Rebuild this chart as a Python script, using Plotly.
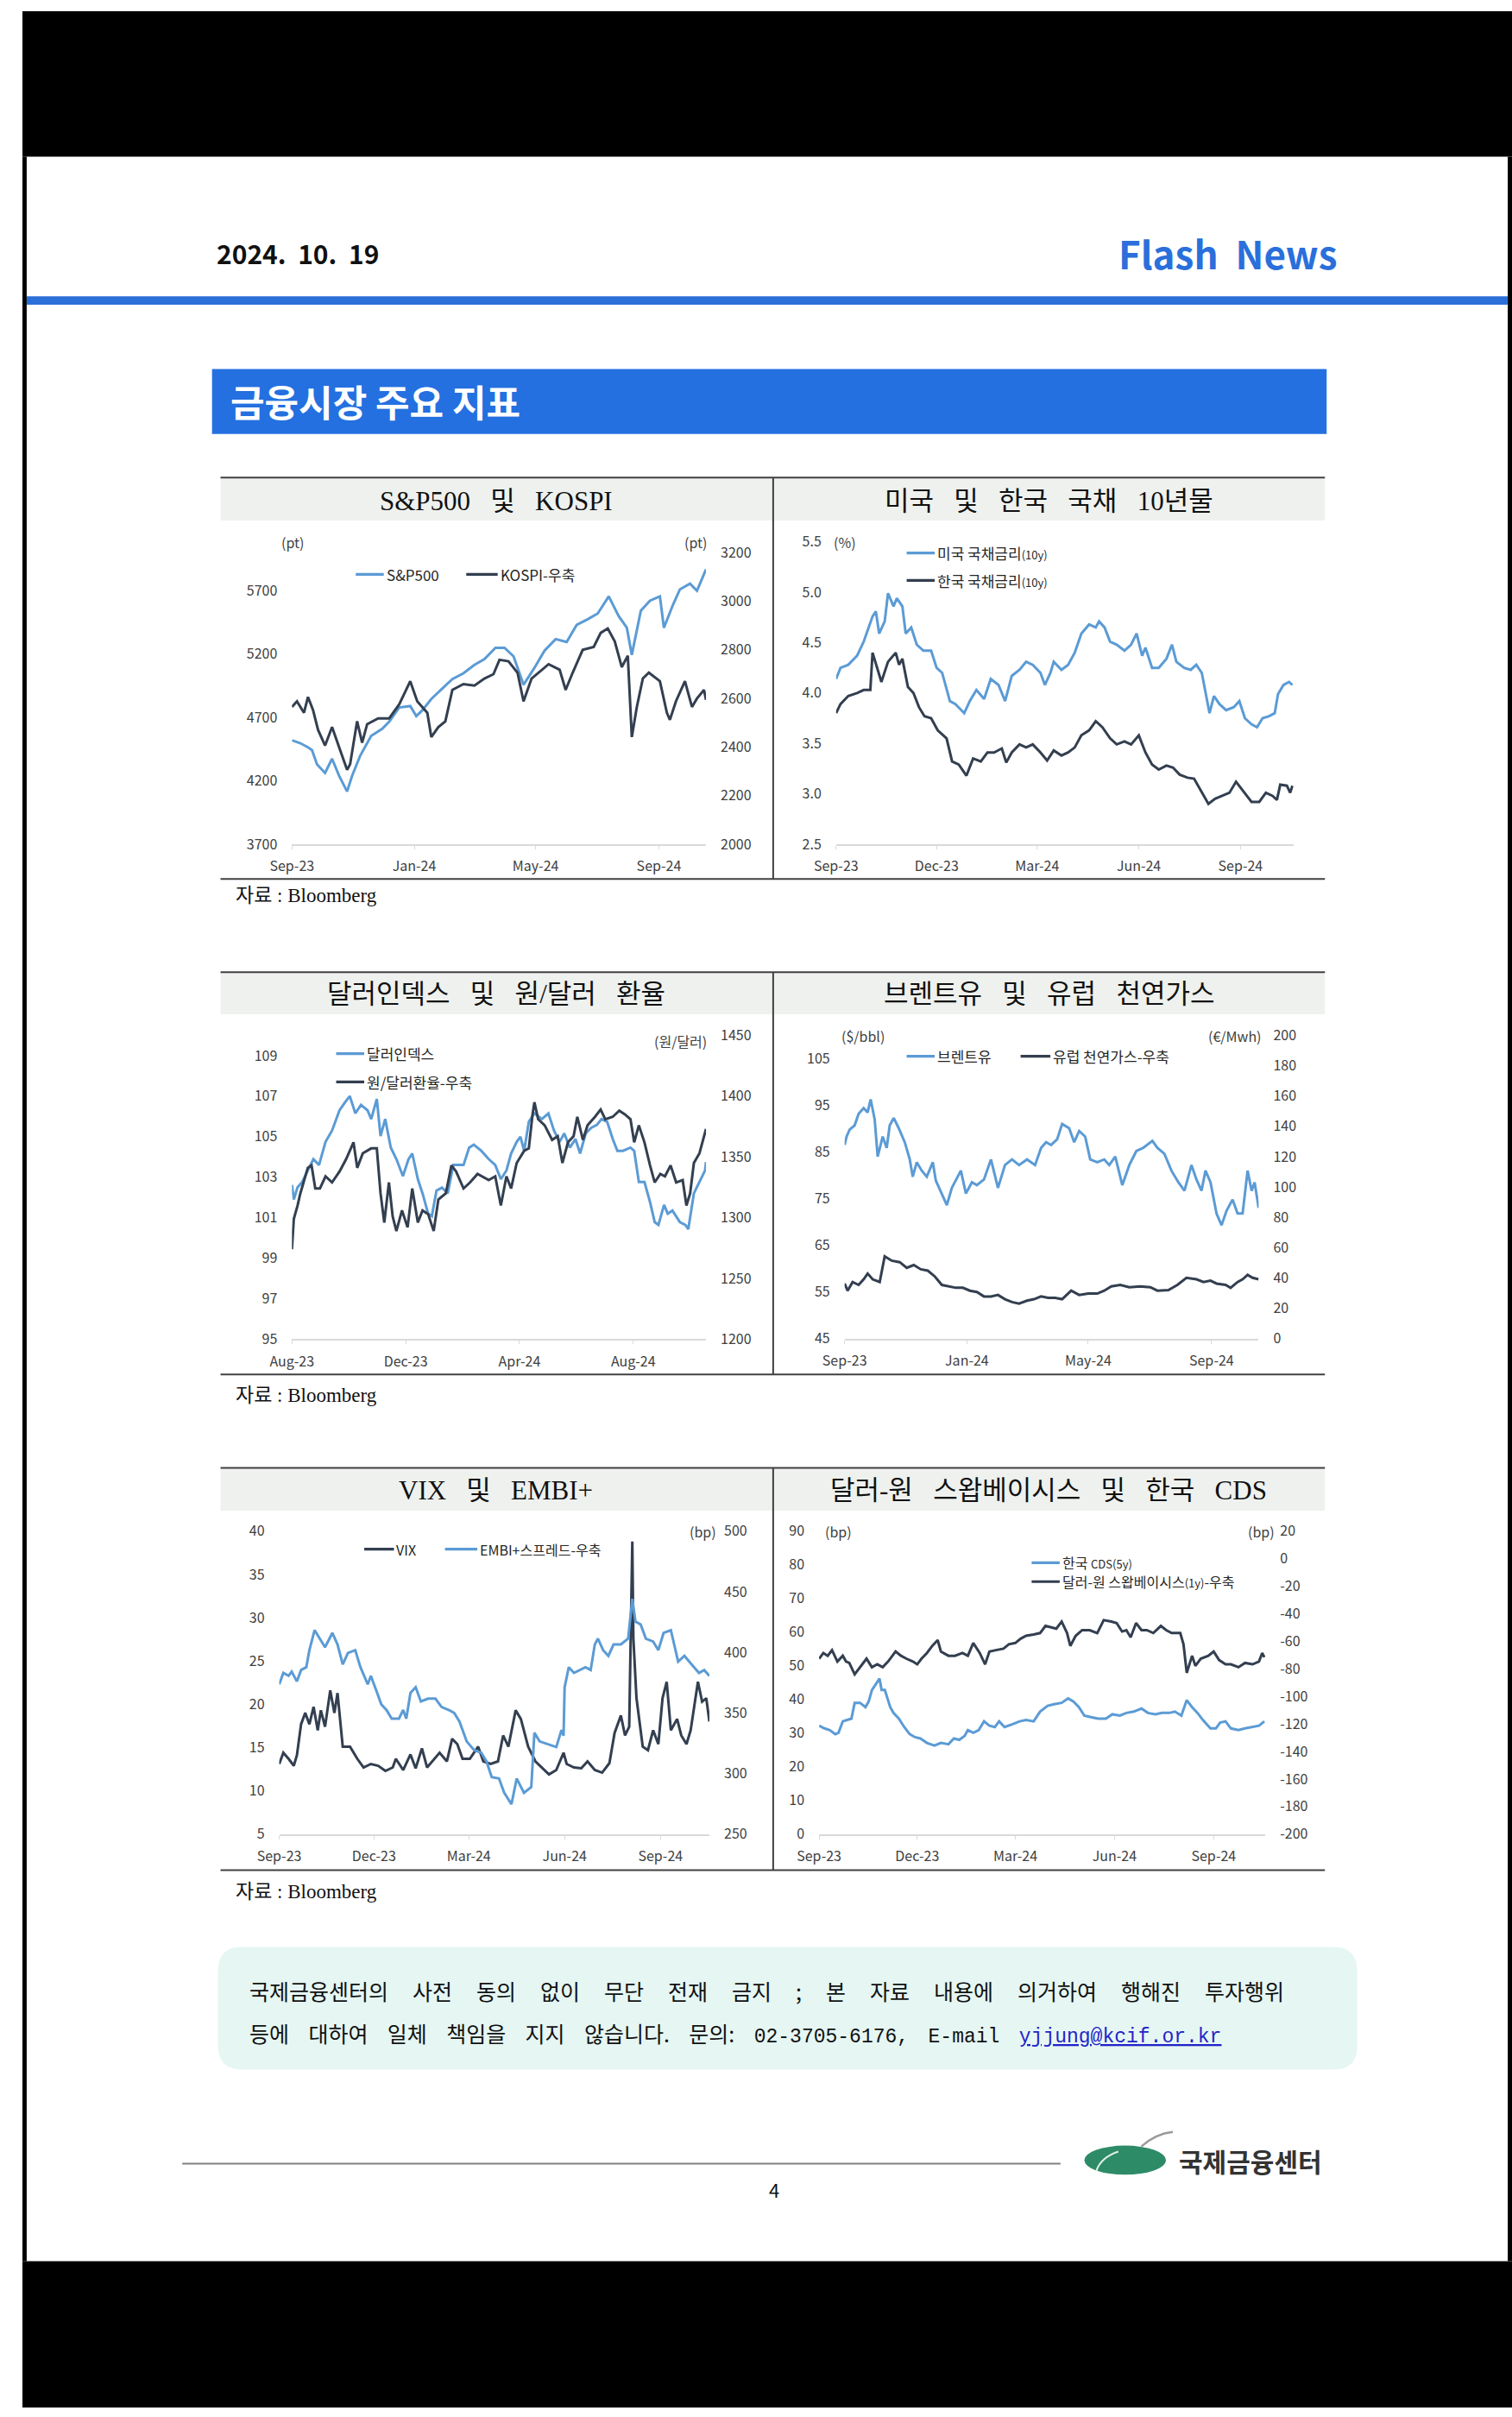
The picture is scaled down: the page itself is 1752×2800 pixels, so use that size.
import plotly.graph_objects as go

# ============================ DATA ============================
SP500_DATES = ["2023-09-01","2023-09-09","2023-09-17","2023-09-21","2023-09-26","2023-10-01","2023-10-04","2023-10-11","2023-10-18","2023-10-26",
               "2023-10-31","2023-11-08","2023-11-19","2023-11-30","2023-12-07","2023-12-17","2023-12-28","2024-01-03","2024-01-09","2024-01-18",
               "2024-01-29","2024-02-08","2024-02-19","2024-03-01","2024-03-11","2024-03-22","2024-03-31","2024-04-09","2024-04-19","2024-04-30",
               "2024-05-10","2024-05-21","2024-06-01","2024-06-11","2024-06-22","2024-07-02","2024-07-13","2024-07-23","2024-07-31","2024-08-05",
               "2024-08-14","2024-08-23","2024-09-02","2024-09-06","2024-09-15","2024-09-22","2024-10-02","2024-10-09","2024-10-18"]
SP500 = [4520,4498,4464,4442,4330,4284,4262,4374,4240,4116,4240,4397,4554,4610,4666,4779,4790,4711,4756,4846,
         4925,5003,5048,5115,5160,5250,5250,5183,4958,5093,5228,5318,5295,5430,5475,5520,5655,5498,5408,5194,
         5543,5621,5655,5408,5588,5711,5756,5700,5868]

KOSPI_DATES = ["2023-09-01","2023-09-06","2023-09-13","2023-09-17","2023-09-22","2023-09-27","2023-10-04","2023-10-11","2023-10-18","2023-10-26",
               "2023-10-29","2023-11-05","2023-11-10","2023-11-15","2023-11-26","2023-12-07","2023-12-17","2023-12-28","2024-01-04","2024-01-14",
               "2024-01-18","2024-01-25","2024-02-01","2024-02-08","2024-02-19","2024-03-01","2024-03-11","2024-03-20","2024-03-26","2024-04-04",
               "2024-04-13","2024-04-19","2024-04-27","2024-05-04","2024-05-14","2024-05-25","2024-05-31","2024-06-07","2024-06-17","2024-06-28",
               "2024-07-05","2024-07-12","2024-07-19","2024-07-26","2024-08-01","2024-08-05","2024-08-10","2024-08-16","2024-08-22","2024-09-02",
               "2024-09-09","2024-09-12","2024-09-18","2024-09-27","2024-10-04","2024-10-09","2024-10-16","2024-10-18"]
KOSPI = [2565,2588,2541,2606,2553,2471,2406,2482,2400,2306,2329,2506,2418,2494,2518,2518,2576,2671,2588,2541,
         2441,2482,2506,2635,2659,2653,2682,2700,2759,2753,2706,2588,2682,2706,2741,2718,2635,2706,2800,2812,
         2870,2888,2835,2729,2776,2441,2565,2682,2706,2671,2541,2512,2588,2671,2565,2600,2635,2594]

US10Y_DATES = ["2023-09-01","2023-09-05","2023-09-12","2023-09-20","2023-09-26","2023-09-29","2023-10-04","2023-10-07","2023-10-10","2023-10-15",
               "2023-10-18","2023-10-23","2023-10-26","2023-10-31","2023-11-03","2023-11-08","2023-11-13","2023-11-19","2023-11-26","2023-12-01",
               "2023-12-06","2023-12-13","2023-12-18","2023-12-26","2023-12-31","2024-01-06","2024-01-13","2024-01-19","2024-01-26","2024-02-01",
               "2024-02-07","2024-02-14","2024-02-20","2024-02-26","2024-03-04","2024-03-08","2024-03-13","2024-03-16","2024-03-23","2024-03-29",
               "2024-04-04","2024-04-10","2024-04-17","2024-04-23","2024-04-26","2024-05-01","2024-05-06","2024-05-12","2024-05-19","2024-05-25",
               "2024-05-30","2024-06-04","2024-06-07","2024-06-13","2024-06-19","2024-06-26","2024-07-01","2024-07-05","2024-07-12","2024-07-18",
               "2024-07-23","2024-07-28","2024-08-04","2024-08-08","2024-08-13","2024-08-19","2024-08-26","2024-08-31","2024-09-05","2024-09-11",
               "2024-09-16","2024-09-21","2024-09-27","2024-10-02","2024-10-05","2024-10-10","2024-10-15","2024-10-18"]
US10Y = [4.14,4.25,4.28,4.37,4.51,4.60,4.76,4.81,4.59,4.71,4.99,4.86,4.94,4.86,4.59,4.65,4.48,4.42,4.42,4.25,
         4.20,3.92,3.89,3.80,3.92,4.03,3.94,4.14,4.08,3.92,4.17,4.23,4.31,4.28,4.20,4.08,4.20,4.31,4.23,4.28,
         4.40,4.59,4.68,4.65,4.71,4.65,4.51,4.48,4.42,4.48,4.59,4.37,4.45,4.25,4.25,4.34,4.48,4.31,4.25,4.23,
         4.28,4.20,3.80,3.97,3.89,3.83,3.86,3.92,3.75,3.69,3.66,3.75,3.77,3.80,3.99,4.08,4.11,4.08]

KR10Y_DATES = ["2023-09-01","2023-09-05","2023-09-12","2023-09-20","2023-09-26","2023-10-02","2023-10-04","2023-10-09","2023-10-12","2023-10-18",
               "2023-10-25","2023-10-28","2023-10-31","2023-11-05","2023-11-10","2023-11-15","2023-11-20","2023-11-26","2023-12-02","2023-12-10",
               "2023-12-15","2023-12-21","2023-12-28","2024-01-03","2024-01-10","2024-01-16","2024-01-22","2024-01-29","2024-02-02","2024-02-07",
               "2024-02-14","2024-02-20","2024-02-26","2024-03-04","2024-03-10","2024-03-16","2024-03-23","2024-03-29","2024-04-04","2024-04-10",
               "2024-04-17","2024-04-23","2024-04-29","2024-05-06","2024-05-12","2024-05-19","2024-05-25","2024-06-01","2024-06-07","2024-06-13",
               "2024-06-19","2024-06-26","2024-07-02","2024-07-08","2024-07-15","2024-07-21","2024-07-27","2024-08-03","2024-08-09","2024-08-15",
               "2024-08-22","2024-08-28","2024-09-05","2024-09-11","2024-09-18","2024-09-24","2024-09-30","2024-10-04","2024-10-07","2024-10-13",
               "2024-10-16","2024-10-18"]
KR10Y = [3.80,3.89,3.97,4.00,4.03,4.03,4.40,4.23,4.11,4.31,4.40,4.28,4.34,4.06,4.00,3.86,3.77,3.75,3.63,3.55,
         3.32,3.29,3.18,3.35,3.32,3.41,3.41,3.45,3.31,3.41,3.49,3.46,3.49,3.41,3.33,3.43,3.38,3.41,3.46,3.58,
         3.63,3.72,3.66,3.55,3.49,3.52,3.49,3.58,3.41,3.29,3.24,3.28,3.26,3.19,3.16,3.15,3.04,2.90,2.95,2.98,
         3.01,3.12,3.01,2.92,2.92,3.01,2.98,2.94,3.09,3.08,3.01,3.08]

DXY_DATES = ["2023-08-01","2023-08-03","2023-08-07","2023-08-12","2023-08-18","2023-08-24","2023-08-30","2023-09-06","2023-09-13","2023-09-21",
             "2023-09-27","2023-10-02","2023-10-08","2023-10-14","2023-10-21","2023-10-25","2023-10-31","2023-11-04","2023-11-09","2023-11-15",
             "2023-11-21","2023-11-28","2023-12-04","2023-12-08","2023-12-14","2023-12-19","2023-12-25","2023-12-29","2024-01-03","2024-01-09",
             "2024-01-15","2024-01-21","2024-01-26","2024-02-01","2024-02-07","2024-02-12","2024-02-20","2024-02-28","2024-03-06","2024-03-12",
             "2024-03-18","2024-03-23","2024-03-29","2024-04-02","2024-04-06","2024-04-11","2024-04-17","2024-04-25","2024-05-02","2024-05-08",
             "2024-05-14","2024-05-19","2024-05-25","2024-05-31","2024-06-05","2024-06-11","2024-06-17","2024-06-23","2024-06-28","2024-07-04",
             "2024-07-10","2024-07-15","2024-07-21","2024-07-29","2024-08-02","2024-08-07","2024-08-13","2024-08-19","2024-08-24","2024-08-28",
             "2024-09-03","2024-09-07","2024-09-12","2024-09-20","2024-09-26","2024-09-29","2024-10-05","2024-10-11","2024-10-17","2024-10-18"]
DXY = [102.62,101.9,102.5,102.76,103.33,103.89,103.6,104.74,105.3,106.3,106.7,107.0,106.15,106.57,106.3,105.87,106.86,105.03,105.87,104.46,
       103.89,103.05,103.89,104.17,102.9,102.2,101.2,101.07,102.34,102.48,102.2,103.6,103.6,103.6,104.46,104.6,104.3,103.89,103.6,102.9,
       103.33,104.17,104.74,105.0,104.3,105.73,106.15,105.87,106.15,105.3,104.74,105.16,104.46,104.88,104.17,105.16,105.44,105.58,105.87,105.73,
       104.88,104.3,104.3,104.46,104.3,102.76,102.76,101.77,100.78,100.64,101.63,101.2,101.35,100.78,100.64,100.43,102.2,102.76,103.33,103.75]

KRW_DATES = ["2023-08-01","2023-08-03","2023-08-07","2023-08-10","2023-08-18","2023-08-22","2023-08-26","2023-08-31","2023-09-06","2023-09-13",
             "2023-09-21","2023-09-28","2023-10-06","2023-10-10","2023-10-16","2023-10-25","2023-10-31","2023-11-04","2023-11-08","2023-11-13",
             "2023-11-17","2023-11-21","2023-11-27","2023-12-03","2023-12-08","2023-12-14","2023-12-19","2023-12-25","2023-12-31","2024-01-05",
             "2024-01-13","2024-01-19","2024-01-24","2024-02-01","2024-02-08","2024-02-16","2024-02-28","2024-03-06","2024-03-12","2024-03-18",
             "2024-03-23","2024-03-29","2024-04-06","2024-04-11","2024-04-15","2024-04-17","2024-04-21","2024-04-28","2024-05-06","2024-05-12",
             "2024-05-17","2024-05-23","2024-05-29","2024-06-02","2024-06-08","2024-06-13","2024-06-21","2024-06-27","2024-07-02","2024-07-10",
             "2024-07-17","2024-07-23","2024-07-29","2024-08-02","2024-08-07","2024-08-13","2024-08-19","2024-08-24","2024-08-30","2024-09-04",
             "2024-09-10","2024-09-16","2024-09-23","2024-09-27","2024-10-01","2024-10-05","2024-10-11","2024-10-16","2024-10-18"]
KRW = [1274,1299,1310,1320,1341,1343,1324,1324,1334,1329,1338,1348,1362,1341,1353,1357,1357,1320,1296,1329,
       1301,1289,1306,1292,1324,1296,1306,1303,1289,1315,1320,1343,1338,1324,1329,1336,1331,1334,1310,1334,
       1324,1345,1355,1357,1385,1395,1381,1376,1364,1367,1345,1362,1367,1383,1364,1376,1383,1389,1381,1383,
       1388,1385,1381,1362,1376,1362,1343,1329,1336,1334,1343,1329,1331,1310,1320,1345,1353,1367,1373]

BRENT_DATES = ["2023-09-01","2023-09-03","2023-09-06","2023-09-11","2023-09-15","2023-09-20","2023-09-24","2023-09-27","2023-10-01","2023-10-04",
               "2023-10-09","2023-10-13","2023-10-16","2023-10-20","2023-10-25","2023-10-31","2023-11-05","2023-11-08","2023-11-12","2023-11-17",
               "2023-11-22","2023-11-28","2023-12-01","2023-12-07","2023-12-12","2023-12-17","2023-12-23","2023-12-26","2023-12-31","2024-01-06",
               "2024-01-11","2024-01-18","2024-01-25","2024-02-01","2024-02-08","2024-02-15","2024-02-22","2024-03-01","2024-03-09","2024-03-15",
               "2024-03-20","2024-03-25","2024-03-31","2024-04-05","2024-04-12","2024-04-17","2024-04-22","2024-04-28","2024-05-03","2024-05-10",
               "2024-05-17","2024-05-22","2024-05-28","2024-06-04","2024-06-11","2024-06-18","2024-06-25","2024-07-04","2024-07-09","2024-07-16",
               "2024-07-23","2024-07-30","2024-08-05","2024-08-12","2024-08-17","2024-08-22","2024-08-26","2024-08-31","2024-09-06","2024-09-11",
               "2024-09-16","2024-09-22","2024-09-27","2024-10-02","2024-10-07","2024-10-11","2024-10-14","2024-10-17","2024-10-18"]
BRENT = [86.5,88.3,89.8,90.7,93.2,94.4,93.5,96.3,92.0,84.0,88.3,85.9,90.7,92.3,90.1,87.1,83.4,79.7,82.8,81.0,
         79.7,82.8,78.9,76.1,73.6,77.3,79.7,81.0,76.1,78.5,77.9,79.1,83.4,77.3,82.2,83.4,82.2,83.4,82.2,85.9,
         87.1,86.5,87.7,91.0,90.1,87.1,89.5,88.3,83.4,82.8,83.4,82.2,84.0,77.9,82.2,85.2,85.9,87.4,85.9,84.6,
         81.0,78.5,76.7,82.2,79.1,76.7,81.0,78.5,71.8,69.3,72.4,74.8,71.8,71.8,81.0,76.7,78.5,74.2,73.0]

GAS_DATES = ["2023-09-01","2023-09-04","2023-09-09","2023-09-15","2023-09-20","2023-09-24","2023-09-29","2023-10-06","2023-10-11","2023-10-18",
             "2023-10-26","2023-11-02","2023-11-09","2023-11-16","2023-11-23","2023-11-30","2023-12-07","2023-12-14","2023-12-21","2023-12-28",
             "2024-01-04","2024-01-11","2024-01-18","2024-01-25","2024-02-01","2024-02-08","2024-02-15","2024-02-22","2024-03-01","2024-03-08",
             "2024-03-15","2024-03-22","2024-03-29","2024-04-05","2024-04-14","2024-04-22","2024-05-01","2024-05-10","2024-05-17","2024-05-24",
             "2024-06-02","2024-06-11","2024-06-22","2024-07-02","2024-07-09","2024-07-20","2024-07-29","2024-08-07","2024-08-17","2024-08-24",
             "2024-08-31","2024-09-06","2024-09-15","2024-09-20","2024-09-27","2024-10-02","2024-10-07","2024-10-12","2024-10-18"]
GAS = [36.3,31.6,37.3,35.4,39.1,42.9,39.1,37.3,54.2,51.4,50.4,46.7,48.5,45.7,44.8,41.0,35.4,34.4,33.5,33.5,
       31.6,30.7,27.8,27.8,28.8,26.0,24.1,23.1,25.0,26.0,27.8,26.9,26.9,26.0,31.6,28.8,29.7,29.7,31.6,34.4,
       35.4,33.9,34.4,33.9,31.6,32.0,35.4,40.1,39.1,37.3,38.2,36.3,35.4,33.5,37.3,39.1,42.0,40.1,39.1]

VIX_DATES = ["2023-09-01","2023-09-05","2023-09-10","2023-09-15","2023-09-18","2023-09-22","2023-09-26","2023-09-30","2023-10-04","2023-10-08",
             "2023-10-11","2023-10-15","2023-10-20","2023-10-24","2023-10-27","2023-11-01","2023-11-08","2023-11-15","2023-11-21","2023-11-28",
             "2023-12-05","2023-12-12","2023-12-19","2023-12-22","2023-12-29","2024-01-05","2024-01-10","2024-01-16","2024-01-21","2024-01-28",
             "2024-02-02","2024-02-09","2024-02-14","2024-02-19","2024-02-24","2024-03-02","2024-03-10","2024-03-15","2024-03-22","2024-03-29",
             "2024-04-03","2024-04-08","2024-04-15","2024-04-20","2024-04-27","2024-05-04","2024-05-10","2024-05-17","2024-05-24","2024-05-31",
             "2024-06-03","2024-06-10","2024-06-17","2024-06-23","2024-06-30","2024-07-07","2024-07-14","2024-07-19","2024-07-25","2024-07-29",
             "2024-08-02","2024-08-05","2024-08-06","2024-08-09","2024-08-15","2024-08-20","2024-08-25","2024-08-30","2024-09-03","2024-09-07",
             "2024-09-11","2024-09-17","2024-09-21","2024-09-26","2024-09-30","2024-10-03","2024-10-07","2024-10-11","2024-10-15","2024-10-18"]
VIX = [13.1,14.4,13.7,12.9,14.1,17.7,19.0,17.7,19.7,17.0,19.3,17.4,21.6,19.0,21.3,15.1,15.1,13.7,12.7,13.1,
       12.9,12.3,12.7,13.7,12.4,14.2,12.6,14.9,12.7,13.7,14.4,13.4,16.0,15.4,13.7,13.7,15.1,13.4,13.1,13.4,
       16.4,15.1,19.3,18.3,15.1,13.4,12.7,11.9,12.4,14.4,13.1,12.7,12.6,13.4,12.4,12.1,13.2,16.7,18.7,16.4,
       17.4,38.8,27.6,20.7,15.1,14.7,17.0,15.4,20.7,22.6,17.0,18.3,16.4,15.4,17.0,19.3,22.6,20.3,20.7,18.0]

EMBI_DATES = ["2023-09-01","2023-09-05","2023-09-10","2023-09-13","2023-09-18","2023-09-22","2023-09-27","2023-09-30","2023-10-05","2023-10-10",
              "2023-10-15","2023-10-22","2023-10-27","2023-11-01","2023-11-06","2023-11-13","2023-11-18","2023-11-25","2023-11-28","2023-12-03",
              "2023-12-08","2023-12-13","2023-12-18","2023-12-25","2023-12-29","2024-01-01","2024-01-05","2024-01-10","2024-01-15","2024-01-22",
              "2024-01-29","2024-02-04","2024-02-11","2024-02-16","2024-02-21","2024-02-28","2024-03-06","2024-03-13","2024-03-18","2024-03-23",
              "2024-03-30","2024-04-04","2024-04-11","2024-04-16","2024-04-23","2024-04-30","2024-05-03","2024-05-08","2024-05-15","2024-05-24",
              "2024-05-29","2024-05-31","2024-06-01","2024-06-05","2024-06-10","2024-06-15","2024-06-21","2024-06-26","2024-06-30","2024-07-03",
              "2024-07-08","2024-07-13","2024-07-18","2024-07-25","2024-08-01","2024-08-05","2024-08-08","2024-08-13","2024-08-18","2024-08-25",
              "2024-08-30","2024-09-04","2024-09-11","2024-09-18","2024-09-24","2024-10-01","2024-10-08","2024-10-13","2024-10-18"]
EMBI = [373.6,383,380.6,384,376,385.4,387.7,401.8,418.3,411.3,404.2,416,406.5,390,399.5,401.8,387.7,373.6,380.6,368.9,
        357.1,352.4,345.3,345.3,352.4,345.3,366.5,371.2,359.5,361.8,361.8,354.8,352.4,350,343,326.5,319.4,317.1,310,297.1,
        295.9,284.1,274.7,295.9,284.1,288.8,333.6,326.5,324.2,321.8,335.9,331.2,371.2,387.7,383,385.4,387.7,385.4,406.5,411.3,
        401.8,397.1,406.5,406.5,411.3,444.2,425.4,423,411.3,408.9,401.8,416,418.3,392.4,397.1,390,383,385.4,380.6]

CDS_DATES = ["2023-09-01","2023-09-06","2023-09-11","2023-09-16","2023-09-19","2023-09-23","2023-09-27","2023-10-01","2023-10-04","2023-10-09",
             "2023-10-14","2023-10-17","2023-10-20","2023-10-27","2023-10-29","2023-11-01","2023-11-06","2023-11-09","2023-11-14","2023-11-19",
             "2023-11-24","2023-11-29","2023-12-04","2023-12-10","2023-12-17","2023-12-23","2023-12-30","2024-01-04","2024-01-09","2024-01-14",
             "2024-01-17","2024-01-22","2024-01-27","2024-02-01","2024-02-06","2024-02-11","2024-02-15","2024-02-20","2024-02-27","2024-03-05",
             "2024-03-11","2024-03-18","2024-03-24","2024-03-31","2024-04-06","2024-04-13","2024-04-19","2024-04-24","2024-04-29","2024-05-04",
             "2024-05-11","2024-05-17","2024-05-24","2024-05-30","2024-06-06","2024-06-12","2024-06-19","2024-06-26","2024-07-02","2024-07-09",
             "2024-07-15","2024-07-22","2024-07-27","2024-08-02","2024-08-07","2024-08-12","2024-08-17","2024-08-22","2024-08-29","2024-09-03",
             "2024-09-07","2024-09-12","2024-09-17","2024-09-24","2024-09-30","2024-10-07","2024-10-13","2024-10-18"]
CDS = [32.2,31.4,30.9,29.7,30.1,33.5,33.9,34.3,39.0,39.0,37.7,39.4,42.8,46.2,42.8,42.8,37.7,36.0,34.3,31.8,
       29.7,28.8,28.4,27.1,26.3,27.1,26.7,28.4,28.0,29.2,30.9,30.1,30.9,33.5,32.2,31.8,33.5,31.8,32.6,33.5,
       33.9,33.5,36.4,38.1,38.6,39.0,40.3,39.4,37.7,35.2,34.7,34.3,34.3,35.6,35.2,36.0,36.4,37.3,36.0,35.6,
       36.0,36.0,36.4,35.2,39.8,37.7,36.0,33.9,31.4,31.4,33.1,33.5,31.4,30.9,31.4,31.8,32.2,33.5]

SWAP_DATES = ["2023-09-01","2023-09-05","2023-09-09","2023-09-13","2023-09-18","2023-09-23","2023-09-26","2023-09-29","2023-10-04","2023-10-09",
              "2023-10-15","2023-10-20","2023-10-25","2023-10-30","2023-11-04","2023-11-11","2023-11-16","2023-11-21","2023-11-27","2023-12-01",
              "2023-12-05","2023-12-10","2023-12-15","2023-12-20","2023-12-23","2023-12-30","2024-01-05","2024-01-12","2024-01-17","2024-01-22",
              "2024-01-28","2024-02-02","2024-02-06","2024-02-12","2024-02-19","2024-02-24","2024-03-01","2024-03-06","2024-03-11","2024-03-18",
              "2024-03-24","2024-03-29","2024-04-03","2024-04-08","2024-04-13","2024-04-18","2024-04-21","2024-04-26","2024-05-02","2024-05-09",
              "2024-05-16","2024-05-22","2024-05-29","2024-06-03","2024-06-08","2024-06-12","2024-06-16","2024-06-21","2024-06-26","2024-07-01",
              "2024-07-07","2024-07-14","2024-07-19","2024-07-24","2024-08-01","2024-08-04","2024-08-07","2024-08-12","2024-08-15","2024-08-20",
              "2024-08-27","2024-09-01","2024-09-06","2024-09-12","2024-09-17","2024-09-24","2024-09-30","2024-10-07","2024-10-13","2024-10-16",
              "2024-10-18"]
SWAP = [-72.6,-68.5,-70.5,-66.4,-74.7,-70.5,-74.7,-75.7,-84.0,-78.8,-72.6,-78.8,-76.7,-78.8,-74.7,-67.4,-70.5,-72.6,-74.7,-76.7,
        -72.6,-68.5,-63.3,-59.1,-67.4,-70.5,-70.5,-68.5,-70.5,-61.2,-68.5,-76.7,-67.4,-66.4,-65.3,-62.2,-61.2,-58.1,-56.0,-55.0,
        -54.0,-48.8,-49.8,-50.8,-45.7,-54.0,-63.3,-56.0,-51.9,-51.9,-54.0,-44.6,-45.7,-46.7,-52.9,-51.9,-57.1,-46.7,-51.9,-51.9,
        -54.0,-48.8,-51.9,-54.0,-54.0,-62.2,-82.9,-70.5,-77.8,-72.6,-70.5,-67.4,-73.6,-76.7,-76.7,-78.8,-75.7,-76.7,-74.7,-68.5,
        -71.6]

# tick values / labels
X_TICKS_A = ["2023-09-01", "2024-01-01", "2024-05-01", "2024-09-01"]
X_TICKS_B = ["2023-09-01", "2023-12-01", "2024-03-01", "2024-06-01", "2024-09-01"]
X_TICKS_C = ["2023-08-01", "2023-12-01", "2024-04-01", "2024-08-01"]
SP500_TICKS = [3700, 4200, 4700, 5200, 5700]
KOSPI_TICKS = [2000, 2200, 2400, 2600, 2800, 3000, 3200]
BOND_TICKS = [2.5, 3.0, 3.5, 4.0, 4.5, 5.0, 5.5]
DXY_TICKS = [95, 97, 99, 101, 103, 105, 107, 109]
KRW_TICKS = [1200, 1250, 1300, 1350, 1400, 1450]
BRENT_TICKS = [45, 55, 65, 75, 85, 95, 105]
GAS_TICKS = [0, 20, 40, 60, 80, 100, 120, 140, 160, 180, 200]
VIX_TICKS = [5, 10, 15, 20, 25, 30, 35, 40]
EMBI_TICKS = [250, 300, 350, 400, 450, 500]
CDS_TICKS = [0, 10, 20, 30, 40, 50, 60, 70, 80, 90]
SWAP_TICKS = [-200, -180, -160, -140, -120, -100, -80, -60, -40, -20, 0, 20]

# ============================ STYLE / LAYOUT ============================
W, H = 1752, 2800
LIGHT = "#5b9bd5"
DARK = "#333f50"
SANS = "Noto Sans CJK KR, sans-serif"
SERIF = "Liberation Serif, Noto Sans CJK KR, serif"
TICKCOL = "#404040"
NB = "\u00a0"


def PX(v):
    return v / W


def PY(v):
    return 1 - v / H


def fmt(v, dec=None):
    if dec:
        return f"{v:.{dec}f}"
    return f"{v:g}"


G = NB * 3
PANELS = [
    dict(title=f"S&amp;P500{G}및{G}KOSPI", plot=(317, 804, 632.7, 973.3),
         xr=["2023-09-01", "2024-10-18"], xt=X_TICKS_A,
         left=dict(range=[3700, 6000], ticks=SP500_TICKS), right=dict(range=[2000, 3200], ticks=KOSPI_TICKS),
         series=[(SP500_DATES, SP500, LIGHT, "L", "S&P500"), (KOSPI_DATES, KOSPI, DARK, "R", "KOSPI")]),
    dict(title=f"미국{G}및{G}한국{G}국채{G}10년물", plot=(957, 1495, 620, 973.3),
         xr=["2023-09-01", "2024-10-19"], xt=X_TICKS_B,
         left=dict(range=[2.5, 5.5], ticks=BOND_TICKS, dec=1), right=None,
         series=[(US10Y_DATES, US10Y, LIGHT, "L", "미국 국채금리(10y)"), (KR10Y_DATES, KR10Y, DARK, "L", "한국 국채금리(10y)")]),
    dict(title=f"달러인덱스{G}및{G}원/달러{G}환율", plot=(317, 804, 1196.7, 1551.7),
         xr=["2023-08-01", "2024-10-18"], xt=X_TICKS_C,
         left=dict(range=[95, 110], ticks=DXY_TICKS), right=dict(range=[1200, 1450], ticks=KRW_TICKS),
         series=[(DXY_DATES, DXY, LIGHT, "L", "달러인덱스"), (KRW_DATES, KRW, DARK, "R", "원/달러환율")]),
    dict(title=f"브렌트유{G}및{G}유럽{G}천연가스", plot=(967, 1454, 1196.7, 1551),
         xr=["2023-09-01", "2024-10-18"], xt=X_TICKS_A,
         left=dict(range=[45, 110], ticks=BRENT_TICKS), right=dict(range=[0, 200], ticks=GAS_TICKS),
         series=[(BRENT_DATES, BRENT, LIGHT, "L", "브렌트유"), (GAS_DATES, GAS, DARK, "R", "유럽 천연가스")]),
    dict(title=f"VIX{G}및{G}EMBI+", plot=(302, 808, 1776, 2130),
         xr=["2023-09-01", "2024-10-18"], xt=X_TICKS_B,
         left=dict(range=[5, 40], ticks=VIX_TICKS), right=dict(range=[250, 500], ticks=EMBI_TICKS),
         series=[(VIX_DATES, VIX, DARK, "L", "VIX"), (EMBI_DATES, EMBI, LIGHT, "R", "EMBI+")]),
    dict(title=f"달러-원{G}스왑베이시스{G}및{G}한국{G}CDS", plot=(937, 1462, 1776, 2130),
         xr=["2023-09-01", "2024-10-19"], xt=X_TICKS_B,
         left=dict(range=[0, 90], ticks=CDS_TICKS), right=dict(range=[-200, 20], ticks=SWAP_TICKS),
         series=[(CDS_DATES, CDS, LIGHT, "L", "한국 CDS(5y)"), (SWAP_DATES, SWAP, DARK, "R", "스왑베이시스")]),
]

fig = go.Figure()
layout = {}
tickfont = dict(family=SANS, size=16, color=TICKCOL)

for i, p in enumerate(PANELS, start=1):
    x0, x1, yt, yb = p["plot"]
    xname = "x" if i == 1 else f"x{i}"
    yname = "y" if i == 1 else f"y{i}"
    rname = f"y{i + 6}"
    layout["xaxis" if i == 1 else f"xaxis{i}"] = dict(
        domain=[PX(x0), PX(x1)], anchor=yname, type="date", range=p["xr"],
        tickvals=p["xt"], tickformat="%b-%y", showline=True, linecolor="#d9d9d9", linewidth=2,
        ticks="outside", ticklen=4, tickcolor="#d9d9d9", showgrid=False, zeroline=False,
        tickfont=tickfont, ticklabelstandoff=6, fixedrange=True)
    L = p["left"]
    layout["yaxis" if i == 1 else f"yaxis{i}"] = dict(
        domain=[PY(yb), PY(yt)], anchor=xname, range=L["range"], tickmode="array",
        tickvals=L["ticks"], ticktext=[fmt(v, L.get("dec")) for v in L["ticks"]],
        showgrid=False, zeroline=False, showline=False, ticks="", tickfont=tickfont,
        ticklabelstandoff=16, fixedrange=True)
    R = p["right"]
    if R:
        layout[f"yaxis{i + 6}"] = dict(
            overlaying=yname, side="right", anchor=xname, range=R["range"], tickmode="array",
            tickvals=R["ticks"], ticktext=[fmt(v) for v in R["ticks"]],
            showgrid=False, zeroline=False, showline=False, ticks="", tickfont=tickfont,
            ticklabelstandoff=16, fixedrange=True)
    for dates, vals, col, side, name in p["series"]:
        fig.add_trace(go.Scatter(x=dates, y=vals, mode="lines", name=name,
                                 line=dict(color=col, width=3),
                                 xaxis=xname, yaxis=(yname if side == "L" else rname),
                                 showlegend=False, hoverinfo="skip"))

shapes = []
annots = []


def rect(x0, y0, x1, y1, color):
    shapes.append(dict(type="rect", xref="paper", yref="paper", x0=PX(x0), x1=PX(x1),
                       y0=PY(y1), y1=PY(y0), fillcolor=color, line=dict(width=0), layer="below"))


def line(x0, y0, x1, y1, color, width):
    shapes.append(dict(type="line", xref="paper", yref="paper", x0=PX(x0), x1=PX(x1),
                       y0=PY(y0), y1=PY(y1), line=dict(color=color, width=width), layer="above"))


def text(x, y, s, size, color="#000000", family=SANS, xanchor="left", yanchor="middle"):
    annots.append(dict(xref="paper", yref="paper", x=PX(x), y=PY(y), text=s, showarrow=False,
                       xanchor=xanchor, yanchor=yanchor, borderpad=0,
                       font=dict(size=size, color=color, family=family)))


# page frame
rect(0, 0, 1752, 170, "#000000")
rect(0, 2629, 1752, 2800, "#000000")
rect(0, 170, 5, 2629, "#000000")
rect(1747, 170, 1752, 2629, "#000000")

# header
text(227, 282, "<b>2024.  10.  19</b>", 30, "#111111")
text(1548, 282, f"<b>Flash{NB}{NB}News</b>", 44, "#2a6fdb", xanchor="right")
rect(5, 333, 1747, 343, "#2b6fd9")
rect(223, 418, 1534, 494, "#2470e0")
text(244, 455, f"<b>금융시장{NB}주요{NB}지표</b>", 43, "#ffffff")

# panel frames
ROWS = [(545, 595, 1014), (1123, 1172, 1593), (1702, 1752, 2172)]
for top, band, bot in ROWS:
    rect(233, top, 1532, band, "#eef1ee")
    line(233, top, 1532, top, "#404040", 2)
    line(233, bot, 1532, bot, "#404040", 2)
    line(883, top, 883, bot, "#404040", 2)

TITLE_POS = [(557, 572), (1207, 572), (557, 1148), (1207, 1148), (557, 1728), (1207, 1728)]
for p, (tx, ty) in zip(PANELS, TITLE_POS):
    text(tx, ty, p["title"], 31, "#111111", SERIF, xanchor="center")

for y in (1033, 1617, 2197):
    text(250, y, f"자료{NB}:{NB}Bloomberg", 23, "#111111", SERIF)

# units
UNITS = [(318, 620, "(pt)"), (792, 620, "(pt)"), (967, 620, "(%)"), (774, 1203, "(원/달러)"),
         (989, 1197, "($/bbl)"), (1426, 1197, "(€/Mwh)"), (800, 1776, "(bp)"),
         (960, 1776, "(bp)"), (1457, 1776, "(bp)")]
for ux, uy, us in UNITS:
    text(ux, uy, us, 16, TICKCOL, xanchor="center")

# legends (swatch + label)
SM = "<span style='font-size:13px'>"
LEGENDS = [
    (392, 425, 658, LIGHT, "S&amp;P500", 17), (522, 559, 658, DARK, "KOSPI-우축", 17),
    (1040, 1073, 633, LIGHT, f"미국 국채금리{SM}(10y)</span>", 17),
    (1040, 1073, 665, DARK, f"한국 국채금리{SM}(10y)</span>", 17),
    (369, 402, 1218, LIGHT, "달러인덱스", 17), (369, 402, 1251, DARK, "원/달러환율-우축", 17),
    (1040, 1073, 1221, LIGHT, "브렌트유", 17), (1174, 1209, 1221, DARK, "유럽 천연가스-우축", 17),
    (402, 437, 1797, DARK, "VIX", 16), (497, 535, 1797, LIGHT, "EMBI+스프레드-우축", 16),
    (1187, 1220, 1813, LIGHT, f"한국 {SM}CDS(5y)</span>", 16),
    (1187, 1220, 1835, DARK, f"달러-원 스왑베이시스{SM}(1y)</span>-우축", 16),
]
for lx0, lx1, ly, col, lab, fs in LEGENDS:
    line(lx0, ly, lx1, ly, col, 3.2)
    text(lx1 + 2, ly, lab, fs, "#262626")

# footer disclaimer box (rounded)
bx0, by0, bx1, by1, r = 230, 2262, 1570, 2405, 28
path = (f"M{PX(bx0 + r)},{PY(by0)} L{PX(bx1 - r)},{PY(by0)} Q{PX(bx1)},{PY(by0)} {PX(bx1)},{PY(by0 + r)} "
        f"L{PX(bx1)},{PY(by1 - r)} Q{PX(bx1)},{PY(by1)} {PX(bx1 - r)},{PY(by1)} "
        f"L{PX(bx0 + r)},{PY(by1)} Q{PX(bx0)},{PY(by1)} {PX(bx0)},{PY(by1 - r)} "
        f"L{PX(bx0)},{PY(by0 + r)} Q{PX(bx0)},{PY(by0)} {PX(bx0 + r)},{PY(by0)} Z")
shapes.append(dict(type="path", xref="paper", yref="paper", path=path, fillcolor="#e5f6f3",
                   line=dict(width=0), layer="below"))
line1 = (NB * 5).join(["국제금융센터의", "사전", "동의", "없이", "무단", "전재", "금지", ";", "본", "자료", "내용에",
                       "의거하여", "행해진", "투자행위"])
mono = "<span style='font-family:Liberation Mono;font-size:23px'>"
line2 = (NB * 4).join(["등에", "대하여", "일체", "책임을", "지지", "않습니다.", "문의:",
                       f"{mono}02-3705-6176,</span>", f"{mono}E-mail</span>",
                       "<span style='font-family:Liberation Mono;font-size:23px;color:#2323c8;"
                       "text-decoration:underline'>yjjung@kcif.or.kr</span>"])
text(266, 2313, line1, 25, "#111111")
text(266, 2362, line2, 25, "#111111")

# bottom rule, logo, page number
line(188, 2515, 1221, 2515, "#808080", 2)
shapes.append(dict(type="circle", xref="paper", yref="paper", x0=PX(1249), x1=PX(1345),
                   y0=PY(2528), y1=PY(2494), fillcolor="#2e8b67", line=dict(width=0), layer="above"))
shapes.append(dict(type="path", xref="paper", yref="paper",
                   path=f"M{PX(1263)},{PY(2524)} Q{PX(1268)},{PY(2508)} {PX(1289)},{PY(2501)}",
                   line=dict(color="#dfeee8", width=2), layer="above"))
shapes.append(dict(type="path", xref="paper", yref="paper",
                   path=f"M{PX(1316)},{PY(2495)} Q{PX(1333)},{PY(2480)} {PX(1353)},{PY(2478)}",
                   line=dict(color="#9a9a9a", width=2.5), layer="above"))
text(1359, 2512, "<b>국제금융센터</b>", 30, "#333333")
text(884, 2545, "4", 22, "#111111", xanchor="center")

layout.update(dict(width=W, height=H, margin=dict(l=0, r=0, t=0, b=0, pad=0), showlegend=False,
                   paper_bgcolor="#ffffff", plot_bgcolor="#ffffff", shapes=shapes, annotations=annots))
fig.update_layout(layout)

RESET = ("var s=document.documentElement.style;s.margin='0';s.padding='0';s.overflow='hidden';"
         "var b=document.body.style;b.margin='0';b.padding='0';b.overflow='hidden';")
fig.write_html("out.html", config={"displayModeBar": False}, post_script=RESET)
